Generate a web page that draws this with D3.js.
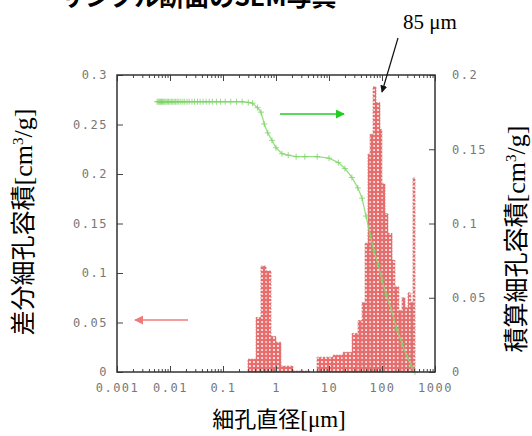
<!DOCTYPE html>
<html>
<head>
<meta charset="utf-8">
<script src="https://cdn.jsdelivr.net/npm/d3@7"></script>
<style>
body { margin: 0; background: #fff; }
svg { display: block; }
.tick text { font-family: "DejaVu Sans Mono", monospace; font-size: 12px; fill: #777; letter-spacing: 1.5px; }
.tick line { stroke: #444; }
.domain { display: none; }
</style>
</head>
<body>
<div class="chart"></div>
<script>
// histogram bins (pore diameter edges, um) and differential pore volume (cm3/g)
const binEdges = [0.296, 0.42, 0.52, 0.65, 0.805, 1.0, 1.24, 2.09, 4.39, 5.94,
  11.9, 18.4, 27.2, 35.2, 42.0, 47.8, 54.4, 59.4, 67.7, 77.1,
  91.7, 100, 114, 130, 155, 176, 209, 238, 272, 310, 352, 384, 420];
const diffVolume = [0.013, 0.055, 0.107, 0.102, 0.036, 0.030, 0.006, 0.001, 0, 0.015,
  0.017, 0.020, 0.039, 0.052, 0.070, 0.130, 0.220, 0.240, 0.288, 0.272,
  0.245, 0.190, 0.160, 0.140, 0.113, 0.086, 0.062, 0.075, 0.065, 0.080, 0.070, 0.196];

// cumulative pore volume (cm3/g) vs diameter (um)
const cumDiam = [0.0057, 0.0060, 0.0063, 0.0066, 0.0069, 0.0072, 0.0076, 0.0080, 0.0084, 0.0089,
  0.0094, 0.010, 0.0106, 0.0113, 0.012, 0.0128, 0.0137, 0.0147, 0.016, 0.0175,
  0.019, 0.021, 0.023, 0.026, 0.029, 0.033, 0.037, 0.042, 0.048, 0.055,
  0.063, 0.075, 0.09, 0.11, 0.14, 0.18, 0.23, 0.3, 0.36, 0.45,
  0.52, 0.6, 0.7, 0.84, 1.0, 1.3, 1.7, 2.4, 3.5, 6,
  10, 15, 20, 27, 35, 42, 50, 60, 70, 85,
  100, 120, 150, 190, 240, 300, 360, 420];
const cumVol = [0.182, 0.182, 0.182, 0.182, 0.182, 0.182, 0.182, 0.182, 0.182, 0.182,
  0.182, 0.182, 0.182, 0.182, 0.182, 0.182, 0.182, 0.182, 0.182, 0.182,
  0.182, 0.182, 0.182, 0.182, 0.182, 0.182, 0.182, 0.182, 0.182, 0.182,
  0.182, 0.182, 0.182, 0.182, 0.182, 0.182, 0.182, 0.1815, 0.181, 0.178,
  0.175, 0.167, 0.161, 0.156, 0.151, 0.147, 0.146, 0.145, 0.145, 0.145,
  0.144, 0.141, 0.137, 0.131, 0.124, 0.117, 0.105, 0.092, 0.082, 0.072,
  0.062, 0.052, 0.042, 0.029, 0.019, 0.010, 0.004, 0.0];

const xTicks = [0.001, 0.01, 0.1, 1, 10, 100, 1000];
const xTickLabels = ["0.001", "0.01", "0.1", "1", "10", "100", "1000"];
const yLeftTicks = [0, 0.05, 0.1, 0.15, 0.2, 0.25, 0.3];
const yLeftLabels = ["0", "0.05", "0.1", "0.15", "0.2", "0.25", "0.3"];
const yRightTicks = [0, 0.05, 0.1, 0.15, 0.2];
const yRightLabels = ["0", "0.05", "0.1", "0.15", "0.2"];

const w = 532, h = 436;
const pLeft = 117, pRight = 435, pTop = 75, pBottom = 372;

const x = d3.scaleLog().domain([0.001, 1000]).range([pLeft, pRight]);
const yL = d3.scaleLinear().domain([0, 0.3]).range([pBottom, pTop]);
const yR = d3.scaleLinear().domain([0, 0.2]).range([pBottom, pTop]);

const svg = d3.select(".chart").append("svg")
  .attr("width", w).attr("height", h);

// checker pattern for bars
const defs = svg.append("defs");
const pat = defs.append("pattern")
  .attr("id", "dots").attr("patternUnits", "userSpaceOnUse")
  .attr("width", 4).attr("height", 4);
pat.append("rect").attr("width", 4).attr("height", 4).attr("fill", "#ee6b6b");
pat.append("rect").attr("x", 1).attr("y", 1).attr("width", 2).attr("height", 2)
  .attr("fill", "#fff").attr("opacity", 0.75);

// bars
svg.append("g").selectAll("rect")
  .data(diffVolume)
  .enter().append("rect")
  .attr("x", (d, i) => x(binEdges[i]))
  .attr("width", (d, i) => x(binEdges[i + 1]) - x(binEdges[i]))
  .attr("y", d => yL(d))
  .attr("height", d => pBottom - yL(d))
  .attr("fill", "url(#dots)")
  .attr("stroke", "#c77a7a")
  .attr("stroke-width", 0.7)
  .attr("stroke-dasharray", "2,1");

// cumulative curve
const line = d3.line().x((d, i) => x(cumDiam[i])).y(d => yR(d));
svg.append("path")
  .datum(cumVol)
  .attr("d", line)
  .attr("fill", "none")
  .attr("stroke", "#86d870")
  .attr("stroke-width", 1.3)
  .attr("opacity", 0.85);

svg.append("g").selectAll("path")
  .data(cumVol)
  .enter().append("path")
  .attr("d", (d, i) => `M${x(cumDiam[i]) - 3},${yR(d)}h6M${x(cumDiam[i])},${yR(d) - 3}v6`)
  .attr("stroke", "#7cd466")
  .attr("stroke-width", 1)
  .attr("opacity", 0.8);

// axes
const minorTicks = [];
for (let e = -3; e < 3; e++) for (let m = 2; m < 10; m++) minorTicks.push(m * Math.pow(10, e));

svg.append("g").attr("transform", `translate(0,${pBottom})`)
  .call(d3.axisBottom(x).tickValues(xTicks).tickSize(-6).tickPadding(11)
    .tickFormat((d, i) => xTickLabels[i]));
svg.append("g").attr("transform", `translate(0,${pBottom})`)
  .call(d3.axisBottom(x).tickValues(minorTicks).tickSize(-3).tickFormat(""));
svg.append("g").attr("transform", `translate(0,${pTop})`)
  .call(d3.axisTop(x).tickValues(xTicks).tickSize(-6).tickFormat(""));
svg.append("g").attr("transform", `translate(0,${pTop})`)
  .call(d3.axisTop(x).tickValues(minorTicks).tickSize(-3).tickFormat(""));

svg.append("g").attr("transform", `translate(${pLeft},0)`)
  .call(d3.axisLeft(yL).tickValues(yLeftTicks).tickSize(-6).tickPadding(9)
    .tickFormat((d, i) => yLeftLabels[i]));
svg.append("g").attr("transform", `translate(${pRight},0)`)
  .call(d3.axisRight(yR).tickValues(yRightTicks).tickSize(-6).tickPadding(17)
    .tickFormat((d, i) => yRightLabels[i]));

// frame
svg.append("rect")
  .attr("x", pLeft).attr("y", pTop)
  .attr("width", pRight - pLeft).attr("height", pBottom - pTop)
  .attr("fill", "none").attr("stroke", "#333").attr("stroke-width", 1.5);

// arrows
function marker(id, color) {
  defs.append("marker").attr("id", id)
    .attr("viewBox", "0 0 10 10").attr("refX", 9).attr("refY", 5)
    .attr("markerWidth", 6).attr("markerHeight", 6).attr("orient", "auto")
    .append("path").attr("d", "M0,0L10,5L0,10z").attr("fill", color);
}
marker("ag", "#22cc22");
marker("ap", "#f07a7a");
marker("ak", "#111");

svg.append("line").attr("x1", 280).attr("y1", 114).attr("x2", 344).attr("y2", 114)
  .attr("stroke", "#22cc22").attr("stroke-width", 1.5).attr("marker-end", "url(#ag)");
svg.append("line").attr("x1", 188).attr("y1", 320).attr("x2", 135).attr("y2", 320)
  .attr("stroke", "#f07a7a").attr("stroke-width", 1.5).attr("marker-end", "url(#ap)");
svg.append("line").attr("x1", 398).attr("y1", 38).attr("x2", 382).attr("y2", 92)
  .attr("stroke", "#111").attr("stroke-width", 1.2).attr("marker-end", "url(#ak)");

// texts
svg.append("text").attr("x", 403).attr("y", 29)
  .style("font-family", "Liberation Serif").style("font-size", "21px")
  .text("85 μm");

// caption above, cut off by the top edge as in the source image
svg.append("text").attr("x", 60).attr("y", 6)
  .style("font-family", "Noto Sans CJK JP").style("font-size", "25px").style("font-weight", "bold")
  .text("サンプル断面のSEM写真");

function axisTitle(g, cjk, unit, sup, rest, size) {
  const t = g.append("text").attr("text-anchor", "middle");
  t.append("tspan").style("font-family", "Noto Sans CJK JP").style("font-size", size + "px").text(cjk);
  t.append("tspan").style("font-family", "Liberation Serif").style("font-size", (size + 1) + "px").text(unit);
  if (sup) {
    t.append("tspan").style("font-family", "Liberation Serif").style("font-size", "15px")
      .attr("dy", -9).text(sup);
    t.append("tspan").style("font-family", "Liberation Serif").style("font-size", (size + 1) + "px")
      .attr("dy", 9).text(rest);
  } else {
    t.append("tspan").style("font-family", "Liberation Serif").style("font-size", (size + 1) + "px").text(rest);
  }
}

axisTitle(svg.append("g").attr("transform", "translate(32,222) rotate(-90)"),
  "差分細孔容積", "[cm", "3", "/g]", 25);
axisTitle(svg.append("g").attr("transform", "translate(525,239) rotate(-90)"),
  "積算細孔容積", "[cm", "3", "/g]", 25);
axisTitle(svg.append("g").attr("transform", "translate(279,427)"),
  "細孔直径", "[μm", "", "]", 22);
</script>
</body>
</html>
